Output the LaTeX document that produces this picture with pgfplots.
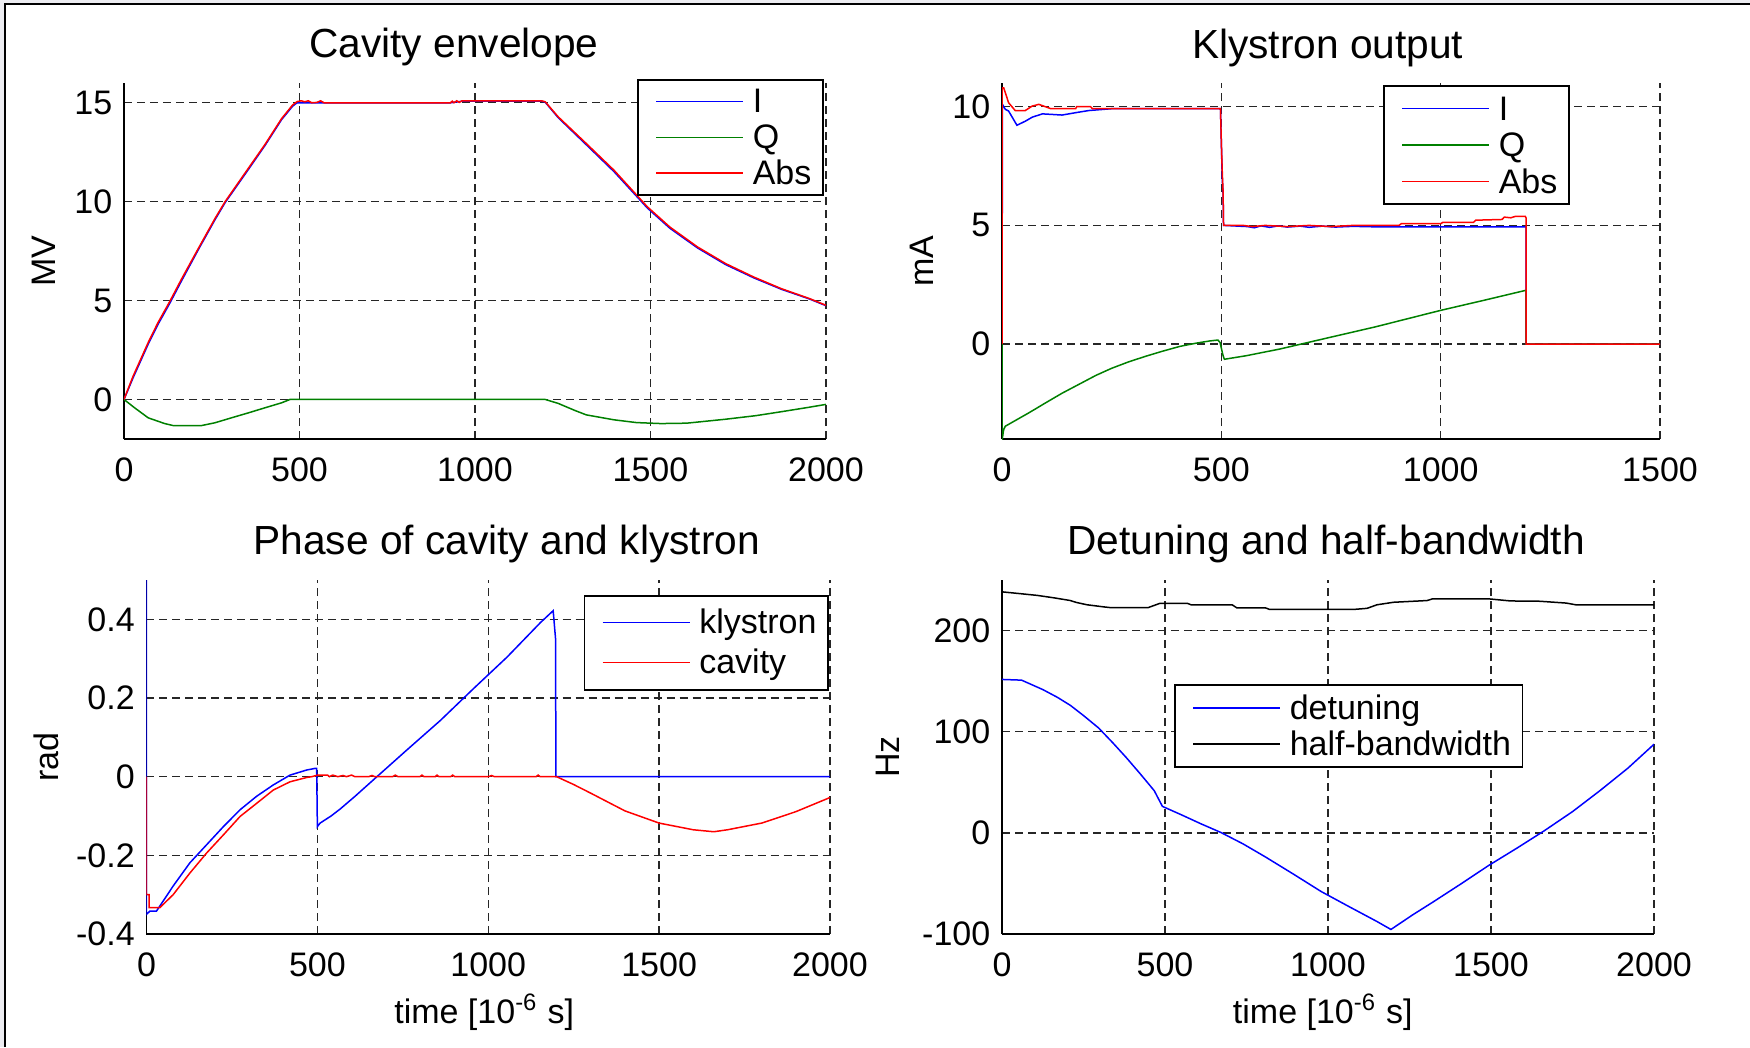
\documentclass[border=0pt]{standalone}
\usepackage{fontspec}
\setmainfont{Liberation Sans}
\usepackage{pgfplots}
\pgfplotsset{compat=1.18}
\definecolor{mblue}{rgb}{0,0,1}
\definecolor{mgreen}{rgb}{0,0.5,0}
\definecolor{mred}{rgb}{1,0,0}
\definecolor{stripgray}{RGB}{236,236,241}
\pgfplotsset{
  mat/.style={
    scale only axis, anchor=south west,
    axis x line=bottom, axis y line=left,
    axis line style={-, line width=0.55pt, black},
    major tick length=0pt,
    grid=major,
    major grid style={dash pattern=on 2.4pt off 1.5pt, black!85, line width=0.4pt},
    tick label style={font=\fontsize{10.2}{12}\selectfont},
    label style={font=\fontsize{10.2}{12}\selectfont},
    title style={font=\fontsize{12.2}{14}\selectfont, anchor=base},
    xticklabel style={yshift=-2pt},
    legend cell align=left,
    legend image code/.code={\path (0pt,0pt) (30.5pt,0pt); \draw[##1,line width=0.45pt] (1.7pt,0pt) -- (27.8pt,0pt);},
    every axis plot/.append style={line width=0.45pt},
  },
  leg/.style n args={3}{legend style={draw=black, line width=0.5pt, inner xsep=3.5pt, inner ysep=#3,
      row sep=0pt, font=\fontsize{10.2}{12}\selectfont,
      nodes={inner sep=0pt, text height=#1, text depth=#2}}},
}
\begin{document}
\begin{tikzpicture}
\useasboundingbox (0,0) rectangle (525pt,314.1pt);
\fill[stripgray] (0,0) rectangle (1.2pt,314.1pt);
\fill[stripgray] (0,313.2pt) rectangle (525pt,314.1pt);
\draw[black, line width=0.7pt] (1.55pt,0) -- (1.55pt,313.2pt);
\draw[black, line width=0.6pt] (1.2pt,312.9pt) -- (525pt,312.9pt);

% ---------------- Cavity envelope ----------------
\begin{axis}[mat, at={(37.2pt,182.4pt)}, width=210.6pt, height=106.8pt,
  xmin=0, xmax=2000, ymin=-2, ymax=16,
  xtick={0,500,1000,1500,2000}, xticklabels={0,500,1000,1500,2000},
  ytick={0,5,10,15}, yticklabels={0,5,10,15},
  title={Cavity envelope}, title style={at={(0.470,1)}, yshift=1.8pt},
  ylabel={MV}, ylabel style={at={(axis description cs:-0.1147,0.5)}, anchor=center},
  leg={8.8pt}{1.95pt}{1.1pt},
  legend style={at={(0.997,1.011)}, anchor=north east},
]
\addplot[mblue] coordinates {(0,0)(26,1.1)(69,2.8)(97,3.8)(130,4.85)(164,6.0)(211,7.55)(259,9.08)(288,9.95)(354,11.62)(402,12.85)(449,14.15)(480,14.82)(493,15.0)(930,15.0)(963,15.08)(1190,15.08)(1200,15.03)(1237,14.25)(1317,12.88)(1396,11.52)(1491,9.68)(1555,8.66)(1634,7.66)(1714,6.82)(1794,6.15)(1873,5.57)(1953,5.08)(2000,4.74)};
\addlegendentry{I}
\addplot[mgreen] coordinates {(0,0)(30,-0.42)(69,-0.93)(116,-1.22)(140,-1.32)(221,-1.32)(259,-1.18)(306,-0.93)(354,-0.68)(402,-0.42)(449,-0.17)(473,0)(500,0)(1200,0)(1237,-0.2)(1285,-0.56)(1317,-0.78)(1396,-1.03)(1460,-1.17)(1530,-1.22)(1603,-1.2)(1714,-1.0)(1800,-0.82)(1873,-0.62)(1950,-0.4)(2000,-0.25)};
\addlegendentry{Q}
\addplot[mred] coordinates {(0,0)(26,1.18)(69,2.88)(97,3.89)(130,4.94)(164,6.09)(211,7.61)(259,9.14)(288,10.0)(354,11.68)(402,12.9)(449,14.2)(480,14.88)(493,15.06)(505,15.1)(515,15.05)(525,15.1)(535,15.0)(550,15.02)(560,15.1)(570,15.0)(930,15.0)(935,15.08)(940,15.0)(948,15.1)(955,15.02)(963,15.1)(1190,15.1)(1200,15.05)(1237,14.29)(1317,12.94)(1396,11.59)(1491,9.74)(1555,8.72)(1634,7.71)(1714,6.87)(1794,6.19)(1873,5.6)(1953,5.1)(2000,4.76)};
\addlegendentry{Abs}
\end{axis}

% ---------------- Klystron output ----------------
\begin{axis}[mat, at={(300.6pt,182.4pt)}, width=197.4pt, height=106.8pt,
  xmin=0, xmax=1500, ymin=-4, ymax=11,
  xtick={0,500,1000,1500}, xticklabels={0,500,1000,1500},
  ytick={0,5,10}, yticklabels={0,5,10},
  title={Klystron output}, title style={at={(0.495,1)}, yshift=1.5pt},
  ylabel={mA}, ylabel style={at={(axis description cs:-0.1216,0.5)}, anchor=center},
  leg={9.0pt}{1.95pt}{1.3pt},
  legend style={at={(0.863,0.994)}, anchor=north east},
]
\addplot[mblue] coordinates {(0,0)(1,10.1)(7.6,9.89)(15,9.82)(34,9.22)(53,9.39)(69,9.56)(92,9.7)(137,9.65)(168,9.75)(198,9.84)(252,9.92)(498,9.92)(500,8.5)(502,7.0)(504,6.3)(505,5.0)(560,4.95)(575,4.9)(590,4.98)(610,4.92)(630,4.98)(650,4.93)(680,4.97)(700,4.92)(730,4.97)(760,4.93)(800,4.96)(850,4.94)(1195,4.94)(1195,0)(1500,0)};
\addlegendentry{I}
\addplot[mgreen] coordinates {(0,0)(0,-4.07)(3.8,-3.6)(7.6,-3.46)(61,-2.9)(100,-2.47)(137,-2.07)(175,-1.7)(214,-1.32)(250,-1.02)(290,-0.74)(330,-0.5)(366,-0.3)(405,-0.1)(443,0.04)(473,0.13)(492,0.17)(497,0.07)(504,-0.49)(507,-0.64)(557,-0.49)(633,-0.21)(740,0.25)(850,0.72)(1000,1.42)(1100,1.85)(1193,2.26)(1195,2.26)(1195,0)(1500,0)};
\addlegendentry{Q}
\addplot[mred] coordinates {(0,0)(0,10.8)(3.8,10.8)(15,10.17)(30,9.84)(53,9.84)(69,10.03)(84,10.1)(99,10.0)(111,9.92)(168,9.92)(170,10.0)(202,10.0)(206,9.92)(498,9.92)(500,8.5)(502,7.3)(504,6.4)(505,5.0)(550,5.0)(570,4.95)(600,5.0)(650,4.95)(700,5.0)(750,4.95)(800,5.0)(905,5.0)(910,5.07)(1000,5.07)(1005,5.13)(1075,5.13)(1080,5.22)(1140,5.25)(1145,5.35)(1160,5.32)(1170,5.38)(1193,5.38)(1195,5.3)(1195,0)(1500,0)};
\addlegendentry{Abs}
\end{axis}

% ---------------- Phase ----------------
\begin{axis}[mat, at={(43.95pt,33.9pt)}, width=205.05pt, height=106.2pt,
  xmin=0, xmax=2000, ymin=-0.4, ymax=0.5,
  xtick={0,500,1000,1500,2000}, xticklabels={0,500,1000,1500,2000},
  ytick={-0.4,-0.2,0,0.2,0.4}, yticklabels={-0.4,-0.2,0,0.2,0.4},
  title={Phase of cavity and klystron}, title style={at={(0.527,1)}, yshift=1.8pt},
  ylabel={rad}, ylabel style={at={(axis description cs:-0.1463,0.5)}, anchor=center},
  xlabel={time [10\textsuperscript{-6} s]}, xlabel style={at={(axis description cs:0.494,-0.2514)}, anchor=base},
  leg={9.35pt}{2.65pt}{2.1pt},
  legend style={at={(0.9985,0.958)}, anchor=north east},
]
\addplot[mblue] coordinates {(0,0.6)(0,-0.35)(9.8,-0.342)(29,-0.342)(49,-0.316)(78,-0.278)(127,-0.219)(176,-0.173)(225,-0.127)(274,-0.084)(322,-0.05)(371,-0.021)(420,0.004)(469,0.017)(493,0.021)(498,0.021)(500,-0.127)(508,-0.118)(540,-0.1)(567,-0.082)(610,-0.05)(664,-0.008)(762,0.068)(860,0.143)(957,0.224)(1055,0.304)(1153,0.392)(1190,0.422)(1197,0.35)(1198,0)(2000,0)};
\addlegendentry{klystron}
\addplot[mred] coordinates {(0,0)(0,-0.3)(8,-0.3)(8,-0.333)(39,-0.333)(78,-0.3)(127,-0.245)(176,-0.194)(225,-0.148)(274,-0.101)(322,-0.068)(371,-0.034)(420,-0.013)(469,-0.002)(484,0)(500,0.004)(530,0.004)(535,0)(545,0.004)(560,0)(575,0.003)(585,0)(600,0.004)(610,0)(650,0)(660,0.003)(668,0)(720,0)(728,0.004)(736,0)(800,0)(806,0.004)(812,0)(845,0)(850,0.004)(856,0)(890,0)(896,0.004)(902,0)(1000,0)(1010,0.003)(1018,0)(1140,0)(1146,0.004)(1152,0)(1200,0)(1250,-0.02)(1300,-0.042)(1400,-0.087)(1500,-0.118)(1600,-0.135)(1660,-0.14)(1700,-0.135)(1800,-0.118)(1900,-0.089)(2000,-0.053)};
\addlegendentry{cavity}
\end{axis}

% ---------------- Detuning ----------------
\begin{axis}[mat, at={(300.6pt,33.9pt)}, width=195.6pt, height=106.2pt,
  xmin=0, xmax=2000, ymin=-100, ymax=250,
  xtick={0,500,1000,1500,2000}, xticklabels={0,500,1000,1500,2000},
  ytick={-100,0,100,200}, yticklabels={-100,0,100,200},
  title={Detuning and half-bandwidth}, title style={at={(0.497,1)}, yshift=1.8pt},
  ylabel={Hz}, ylabel style={at={(axis description cs:-0.1748,0.5)}, anchor=center},
  xlabel={time [10\textsuperscript{-6} s]}, xlabel style={at={(axis description cs:0.492,-0.2514)}, anchor=base},
  leg={8.75pt}{2.05pt}{1.5pt},
  legend style={at={(0.264,0.706)}, anchor=north west},
]
\addplot[mblue] coordinates {(0,151.7)(60,151)(125,141.7)(170,134)(210,126)(250,116)(296,103.8)(340,89)(381,74.5)(425,58)(467,41.7)(492,26.2)(552,17.6)(610,9)(672,0.3)(740,-11)(808,-23.8)(895,-41)(979,-58)(1065,-73)(1150,-87.6)(1193,-95.5)(1200,-94)(1260,-81)(1321,-68.6)(1410,-50)(1492,-32.4)(1580,-15)(1663,2)(1750,21)(1834,41.7)(1920,64)(2000,87.6)};
\addlegendentry{detuning}
\addplot[black] coordinates {(0,238.3)(56,236.5)(108,234.8)(159,232.4)(210,229.7)(227,227.9)(261,225.5)(313,223.4)(330,222.8)(449,222.8)(484,226.9)(569,226.9)(580,225.5)(706,225.5)(720,222.5)(808,222.5)(820,221)(1082,221)(1120,222)(1150,225.5)(1201,228)(1304,229.7)(1321,231.4)(1492,231.4)(1560,229.3)(1650,229)(1731,227.2)(1760,225.5)(2000,225.5)};
\addlegendentry{half-bandwidth}
\end{axis}
\end{tikzpicture}
\end{document}
